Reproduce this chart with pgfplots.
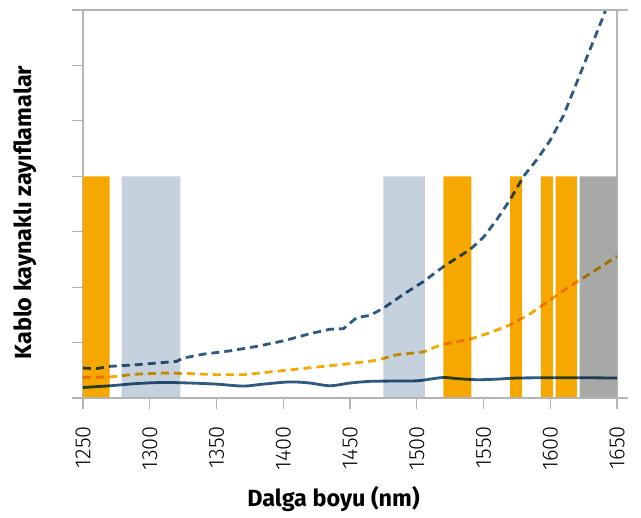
\documentclass[border=0pt]{standalone}
\usepackage{fontspec}
\setmainfont{Fira Sans}
\newfontfamily\lightfont{Fira Sans Light}
\usepackage{pgfplots}
\pgfplotsset{compat=1.18}
\definecolor{ora}{HTML}{F7A800}
\definecolor{lblue}{HTML}{C5D1DC}
\definecolor{gry}{HTML}{A8A8A7}
\definecolor{dblue}{HTML}{2E5A82}
\definecolor{axg}{HTML}{B4B4B4}
\begin{document}
\begin{tikzpicture}
\begin{axis}[
 scale only axis, width=534bp, height=388bp,
 xmin=1250, xmax=1650, ymin=0, ymax=7,
 xtick={1250,1300,...,1650},
 xticklabels={1250,1300,1350,1400,1450,1500,1550,1600,1650},
 ytick={0,...,7}, yticklabels={},
 xtick pos=bottom, ytick pos=left,
 tick align=outside, major tick length=11bp,
 axis line style={axg, line width=1.2bp},
 tick style={axg, line width=1.2bp},
 x tick label style={rotate=90, anchor=east, font=\lightfont\fontsize{22}{22}\selectfont, inner sep=0pt, xshift=-1bp},
 xticklabel shift=16bp,
 xlabel={\textbf{Dalga boyu (nm)}},
 ylabel={\textbf{Kablo kaynaklı zayıflamalar}},
 xlabel style={font=\fontsize{23.5}{23.5}\selectfont, at={(rel axis cs:0.469,0)}, anchor=center, yshift=-101bp},
 ylabel style={font=\fontsize{23.5}{23.5}\selectfont, at={(rel axis cs:0,0.478)}, anchor=center, yshift=58bp},
 clip=true,
]
% bands
\addplot[fill=ora, draw=none] coordinates {(1250,0)(1250,4)(1270,4)(1270,0)} \closedcycle;
\addplot[fill=lblue, draw=none] coordinates {(1279,0)(1279,4)(1323,4)(1323,0)} \closedcycle;
\addplot[fill=lblue, draw=none] coordinates {(1475,0)(1475,4)(1506,4)(1506,0)} \closedcycle;
\addplot[fill=ora, draw=none] coordinates {(1520,0)(1520,4)(1541,4)(1541,0)} \closedcycle;
\addplot[fill=ora, draw=none] coordinates {(1570,0)(1570,4)(1579,4)(1579,0)} \closedcycle;
\addplot[fill=ora, draw=none] coordinates {(1593,0)(1593,4)(1602,4)(1602,0)} \closedcycle;
\addplot[fill=ora, draw=none] coordinates {(1604,0)(1604,4)(1620,4)(1620,0)} \closedcycle;
\addplot[fill=gry, draw=none] coordinates {(1622,0)(1622,4)(1650,4)(1650,0)} \closedcycle;
% solid line
\addplot[dblue, line width=2.8bp, smooth, tension=0.5, blend mode=multiply] coordinates {
(1250,0.19)(1270,0.22)(1290,0.26)(1310,0.28)(1330,0.27)(1350,0.25)(1370,0.215)(1385,0.25)(1405,0.29)(1420,0.27)(1435,0.22)(1450,0.27)(1465,0.30)(1480,0.305)(1500,0.31)(1510,0.34)(1520,0.37)(1530,0.35)(1545,0.33)(1560,0.34)(1575,0.36)(1600,0.365)(1625,0.365)(1650,0.36)};
% orange dashed
\addplot[ora, line width=2.8bp, dash pattern=on 8bp off 5bp, blend mode=multiply] coordinates {
(1250,0.37)(1270,0.38)(1290,0.43)(1310,0.45)(1330,0.44)(1350,0.42)(1370,0.42)(1390,0.47)(1410,0.52)(1430,0.57)(1450,0.62)(1470,0.68)(1485,0.78)(1505,0.83)(1518,0.96)(1540,1.06)(1555,1.18)(1570,1.32)(1585,1.52)(1600,1.77)(1615,2.02)(1625,2.17)(1640,2.40)(1650,2.56)};
% blue dashed
\addplot[dblue, line width=2.8bp, dash pattern=on 8bp off 5bp, blend mode=multiply] coordinates {
(1250,0.54)(1260,0.53)(1270,0.57)(1290,0.60)(1310,0.64)(1320,0.66)(1325,0.72)(1340,0.79)(1360,0.85)(1380,0.93)(1400,1.03)(1420,1.16)(1435,1.24)(1445,1.25)(1455,1.45)(1465,1.49)(1475,1.62)(1490,1.87)(1505,2.10)(1520,2.37)(1540,2.68)(1550,2.90)(1560,3.22)(1570,3.58)(1580,4.00)(1590,4.30)(1600,4.65)(1610,5.10)(1620,5.70)(1630,6.30)(1640,6.90)(1650,7.6)};
\end{axis}
\draw[axg, line width=1.2bp] ([xshift=-11bp]current axis.north west) -- ([xshift=11bp]current axis.north east);
\draw[axg, line width=1.2bp] ([xshift=-11bp]current axis.south west) -- ([xshift=11bp]current axis.south east);
\pgfresetboundingbox
\path[use as bounding box] ([xshift=-83bp,yshift=-120bp]current axis.south west) rectangle ([xshift=24bp,yshift=10bp]current axis.north east);
\end{tikzpicture}
\end{document}
